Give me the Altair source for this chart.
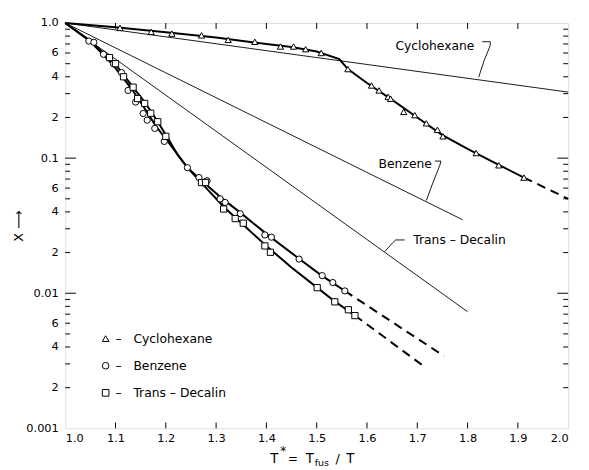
import altair as alt
import pandas as pd

FONT = "DejaVu Sans"
W, H = 510, 411
NB = "\u00a0"

# ---------------- data ----------------
series_names = ["Cyclohexane", "Benzene", "Trans-Decalin"]
series_shapes = ["triangle-up", "circle", "square"]
legend_text = ["–" + NB * 3 + "Cyclohexane", "–" + NB * 3 + "Benzene", "–" + NB * 3 + "Trans – Decalin"]

# ideal-solubility straight lines (thin)
ideal_x0 = [1.0, 1.0, 1.0]
ideal_y0 = [1.0, 1.0, 1.0]
ideal_x1 = [2.0, 1.79, 1.80]
ideal_y1 = [0.308, 0.035, 0.0073]

# smoothed experimental curves (thick, solid)
cyc_line_x = [1.0, 1.1, 1.2, 1.3, 1.4, 1.45, 1.5, 1.545, 1.562, 1.6, 1.65, 1.7, 1.75, 1.8, 1.86, 1.912]
cyc_line_y = [1.0, 0.93, 0.855, 0.78, 0.70, 0.665, 0.615, 0.54, 0.456, 0.36, 0.27, 0.20, 0.148, 0.117, 0.09, 0.0718]
benz_line_x = [1.0, 1.05, 1.093, 1.132, 1.158, 1.181, 1.204, 1.243, 1.27, 1.31, 1.35, 1.40, 1.465, 1.51, 1.556]
benz_line_y = [1.0, 0.73, 0.50, 0.326, 0.233, 0.171, 0.133, 0.085, 0.069, 0.051, 0.039, 0.0275, 0.018, 0.0135, 0.0104]
td_line_x = [1.0, 1.05, 1.099, 1.132, 1.158, 1.184, 1.204, 1.224, 1.243, 1.28, 1.315, 1.35, 1.397, 1.45, 1.501, 1.536, 1.576]
td_line_y = [1.0, 0.74, 0.50, 0.345, 0.26, 0.186, 0.141, 0.105, 0.085, 0.0603, 0.0437, 0.0331, 0.0229, 0.0155, 0.011, 0.0087, 0.00684]

# dashed extrapolations
cyc_dash_x = [1.912, 2.0]
cyc_dash_y = [0.0718, 0.05]
benz_dash_x = [1.556, 1.753]
benz_dash_y = [0.0104, 0.00343]
td_dash_x = [1.576, 1.712]
td_dash_y = [0.00684, 0.0029]

# measured points
cyc_pts_x = [1.109, 1.171, 1.212, 1.271, 1.324, 1.377, 1.428, 1.454, 1.478, 1.509, 1.562, 1.609, 1.624,
             1.642, 1.647, 1.673, 1.695, 1.718, 1.740, 1.751, 1.817, 1.862, 1.912]
cyc_pts_y = [0.92, 0.86, 0.835, 0.81, 0.75, 0.726, 0.67, 0.67, 0.64, 0.60, 0.456, 0.345, 0.317,
             0.284, 0.275, 0.22, 0.208, 0.181, 0.162, 0.145, 0.109, 0.0885, 0.0718]
benz_pts_x = [1.047, 1.057, 1.076, 1.096, 1.112, 1.125, 1.14, 1.155, 1.163, 1.178, 1.197, 1.243, 1.266,
              1.282, 1.308, 1.318, 1.348, 1.397, 1.41, 1.465, 1.511, 1.532, 1.556]
benz_pts_y = [0.735, 0.72, 0.587, 0.50, 0.43, 0.317, 0.26, 0.214, 0.191, 0.166, 0.133, 0.085, 0.0718,
              0.068, 0.050, 0.047, 0.0388, 0.027, 0.026, 0.0179, 0.0135, 0.012, 0.0104]
td_pts_x = [1.088, 1.1, 1.116, 1.135, 1.144, 1.158, 1.17, 1.184, 1.2, 1.271, 1.279, 1.315, 1.338, 1.354,
            1.397, 1.408, 1.501, 1.536, 1.563, 1.576]
td_pts_y = [0.555, 0.50, 0.40, 0.335, 0.276, 0.254, 0.215, 0.186, 0.145, 0.066, 0.066, 0.042, 0.0357, 0.033,
            0.0224, 0.0201, 0.011, 0.00864, 0.00755, 0.00683]

# curve labels and their leader hooks
label_text = ["Cyclohexane", "Benzene", "Trans – Decalin"]
label_x = [1.735, 1.676, 1.784]
label_y = [0.68, 0.0904, 0.0248]
leader_cyc_x = [1.829, 1.845, 1.845, 1.833, 1.822]
leader_cyc_y = [0.727, 0.727, 0.68, 0.528, 0.397]
leader_benz_x = [1.735, 1.747, 1.745, 1.731, 1.718]
leader_benz_y = [0.0951, 0.0951, 0.0889, 0.0657, 0.0486]
leader_td_x = [1.675, 1.657, 1.651, 1.635]
leader_td_y = [0.0248, 0.0248, 0.0236, 0.0203]

# axis ticks / labels
x_tick_values = [1.0, 1.1, 1.2, 1.3, 1.4, 1.5, 1.6, 1.7, 1.8, 1.9, 2.0]
y_label_values = [0.001, 0.002, 0.004, 0.006, 0.01, 0.02, 0.04, 0.06, 0.1, 0.2, 0.4, 0.6, 1.0]
y_major_ticks = [0.001, 0.01, 0.1, 1.0]
y_minor_ticks = [0.002, 0.003, 0.004, 0.005, 0.006, 0.007, 0.008, 0.009,
                 0.02, 0.03, 0.04, 0.05, 0.06, 0.07, 0.08, 0.09,
                 0.2, 0.3, 0.4, 0.5, 0.6, 0.7, 0.8, 0.9]


def rows(name, xs, ys):
    return [{"series": name, "x": x, "y": y, "i": i} for i, (x, y) in enumerate(zip(xs, ys))]


ideal_df = pd.DataFrame(sum([rows(n, [a, b], [c, d]) for n, a, b, c, d in
                             zip(series_names, ideal_x0, ideal_x1, ideal_y0, ideal_y1)], []))
curve_df = pd.DataFrame(rows("Cyclohexane", cyc_line_x, cyc_line_y) + rows("Benzene", benz_line_x, benz_line_y)
                        + rows("Trans-Decalin", td_line_x, td_line_y))
dash_df = pd.DataFrame(rows("Cyclohexane", cyc_dash_x, cyc_dash_y) + rows("Benzene", benz_dash_x, benz_dash_y)
                       + rows("Trans-Decalin", td_dash_x, td_dash_y))
pts_df = pd.DataFrame(rows("Cyclohexane", cyc_pts_x, cyc_pts_y) + rows("Benzene", benz_pts_x, benz_pts_y)
                      + rows("Trans-Decalin", td_pts_x, td_pts_y))
label_df = pd.DataFrame({"label": label_text, "x": label_x, "y": label_y})
leader_df = pd.DataFrame(rows("c", leader_cyc_x, leader_cyc_y) + rows("b", leader_benz_x, leader_benz_y)
                         + rows("t", leader_td_x, leader_td_y))
xt_df = pd.DataFrame({"x": x_tick_values[1:-1]})
ymaj_df = pd.DataFrame({"y": y_major_ticks[1:-1]})
ymin_df = pd.DataFrame({"y": y_minor_ticks})

xs = alt.Scale(domain=[1.0, 2.0], nice=False, zero=False)
ys = alt.Scale(type="log", domain=[0.001, 1.0], nice=False)
shape_scale = alt.Scale(domain=series_names, range=series_shapes)

y_label_expr = ("datum.value > 0.9 ? '1.0' : "
                "(round(datum.value / pow(10, floor(log(datum.value) / LN10 + 1e-6))) == 1 ? "
                "format(datum.value, '.3~f') : "
                "'' + round(datum.value / pow(10, floor(log(datum.value) / LN10 + 1e-6))))")

x_axis = alt.Axis(values=x_tick_values, format=".1f", title=None, grid=False, ticks=False, domain=False,
                  labelFont=FONT, labelFontSize=11.5, labelPadding=4, labelColor="black")
y_axis = alt.Axis(values=y_label_values, labelExpr=y_label_expr, title="X ⟶", grid=False, ticks=False,
                  domain=False, labelFont=FONT, labelFontSize=11.5, labelPadding=7, labelColor="black",
                  titleFont=FONT, titleFontSize=13, titleFontWeight="normal", titleColor="black",
                  titlePadding=0)

XE = alt.X("x:Q", scale=xs, axis=x_axis)
YE = alt.Y("y:Q", scale=ys, axis=y_axis)

ideal = alt.Chart(ideal_df).mark_line(color="black", strokeWidth=0.9).encode(
    x=XE, y=YE, detail="series:N", order="i:Q")

curves = alt.Chart(curve_df).mark_line(color="black", strokeWidth=2).encode(
    x=XE, y=YE, detail="series:N", order="i:Q")

dashes = alt.Chart(dash_df).mark_line(color="black", strokeWidth=2, strokeDash=[9, 6]).encode(
    x=XE, y=YE, detail="series:N", order="i:Q")

points = alt.Chart(pts_df).mark_point(filled=True, fill="white", stroke="black", strokeWidth=1,
                                      size=40, opacity=1).encode(
    x=XE, y=YE, shape=alt.Shape("series:N", scale=shape_scale, legend=None))

labels = alt.Chart(label_df).mark_text(font=FONT, fontSize=12.5, color="black").encode(
    x=XE, y=YE, text="label:N")

leaders = alt.Chart(leader_df).mark_line(color="black", strokeWidth=0.9).encode(
    x=XE, y=YE, detail="series:N", order="i:Q")


def yticks(df, length):
    base = alt.Chart(df).mark_rule(color="black", strokeWidth=1)
    left = base.encode(y=YE, x=alt.value(0), x2=alt.value(length))
    right = base.encode(y=YE, x=alt.value(W), x2=alt.value(W - length))
    return [left, right]


xt_base = alt.Chart(xt_df).mark_rule(color="black", strokeWidth=1)
xt_bottom = xt_base.encode(x=XE, y=alt.value(H), y2=alt.value(H - 6))
xt_top = xt_base.encode(x=XE, y=alt.value(0), y2=alt.value(6))

one = pd.DataFrame({"a": [0]})


def piece(txt, px, py, size):
    return alt.Chart(one).mark_text(font=FONT, fontSize=size, color="black", align="left",
                                    baseline="alphabetic").encode(
        text=alt.value(txt), x=alt.value(px), y=alt.value(py))


title_pieces = [
    piece("T", 208, 446, 13.5),
    piece("*", 218, 438, 12),
    piece("=", 226, 446, 12),
    piece("T", 244, 446, 13.5),
    piece("fus", 253, 449, 9.5),
    piece("/", 274, 446, 13),
    piece("T", 285, 446, 13.5),
]

# legend in the lower-left of the plot
legend_layers = []
for k, (name, shp, txt) in enumerate(zip(series_names, series_shapes, legend_text)):
    ypix = 320 + k * 27.5
    legend_layers.append(
        alt.Chart(one).mark_point(filled=True, fill="white", stroke="black", strokeWidth=1,
                                  size=45, opacity=1, shape=shp).encode(
            x=alt.value(41), y=alt.value(ypix)))
    legend_layers.append(
        alt.Chart(one).mark_text(font=FONT, fontSize=12.5, color="black", align="left",
                                 baseline="middle").encode(
            text=alt.value(txt), x=alt.value(51), y=alt.value(ypix)))

chart = alt.layer(
    ideal, curves, dashes, leaders, labels, points,
    *yticks(ymaj_df, 11), *yticks(ymin_df, 5), xt_bottom, xt_top,
    *title_pieces, *legend_layers
).properties(
    width=W, height=H,
    autosize=alt.AutoSizeParams(type="none"),
    padding={"left": 58, "top": 12, "right": 13, "bottom": 39},
).configure_view(
    stroke="black", strokeWidth=1.3
).configure(background="white")

chart.save("out.html", embed_options={"renderer": "svg", "actions": False})
